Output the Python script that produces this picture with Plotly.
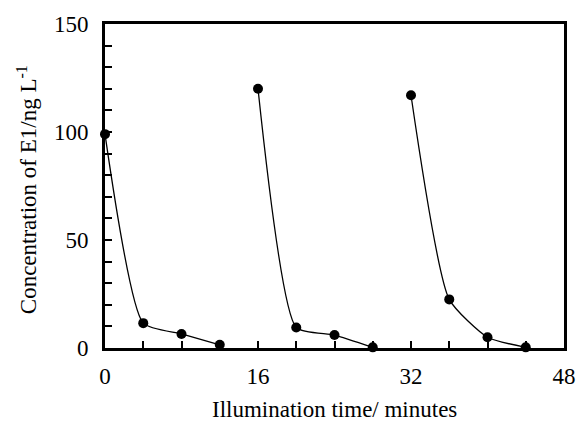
import plotly.graph_objects as go

# Illumination time (minutes) and E1 concentration (ng/L) for three cycles
time_cycle1 = [0, 4, 8, 12]
conc_cycle1 = [99, 11.5, 6.5, 1.5]
time_cycle2 = [16, 20, 24, 28]
conc_cycle2 = [120, 9.5, 6, 0.3]
time_cycle3 = [32, 36, 40, 44]
conc_cycle3 = [117, 22.5, 5, 0.3]

x_tickvals = [0, 16, 32, 48]
y_tickvals = [0, 50, 100, 150]

FONT = "Liberation Serif, Times New Roman, serif"

fig = go.Figure()
for xs, ys in [(time_cycle1, conc_cycle1), (time_cycle2, conc_cycle2), (time_cycle3, conc_cycle3)]:
    fig.add_trace(go.Scatter(
        x=xs, y=ys, mode="lines+markers",
        line=dict(color="black", width=1.3, shape="spline", smoothing=0.55),
        marker=dict(color="black", size=10),
        cliponaxis=False, showlegend=False,
    ))

axis_common = dict(
    showline=True, linecolor="black", linewidth=2.8, mirror=True,
    showgrid=False, zeroline=False,
    ticks="inside", ticklen=7, tickwidth=1.5, tickcolor="black",
    tickfont=dict(family=FONT, size=23, color="black"),
)

fig.update_xaxes(
    range=[0, 48], tickvals=x_tickvals,
    minor=dict(dtick=4, ticks="inside", ticklen=7, tickwidth=1.5, tickcolor="black"),
    ticklabelstandoff=5,
    **axis_common,
)
fig.update_yaxes(
    range=[0, 150], tickvals=y_tickvals,
    minor=dict(dtick=10, ticks="inside", ticklen=7, tickwidth=1.5, tickcolor="black"),
    ticklabelstandoff=9,
    **axis_common,
)

fig.add_annotation(
    text="Illumination time/ minutes", xref="paper", yref="paper",
    x=0.5, y=-0.19, xanchor="center", yanchor="middle", showarrow=False,
    font=dict(family=FONT, size=23, color="black"),
)
fig.add_annotation(
    text="Concentration of E1/ng L<sup>-1</sup>", xref="paper", yref="paper",
    x=-0.17, y=0.49, xanchor="center", yanchor="middle", textangle=-90, showarrow=False,
    font=dict(family=FONT, size=23, color="black"),
)

fig.update_layout(
    width=588, height=422,
    margin=dict(l=105, r=12, t=20, b=74),
    plot_bgcolor="white", paper_bgcolor="white",
)

fig.write_html("out.html")
